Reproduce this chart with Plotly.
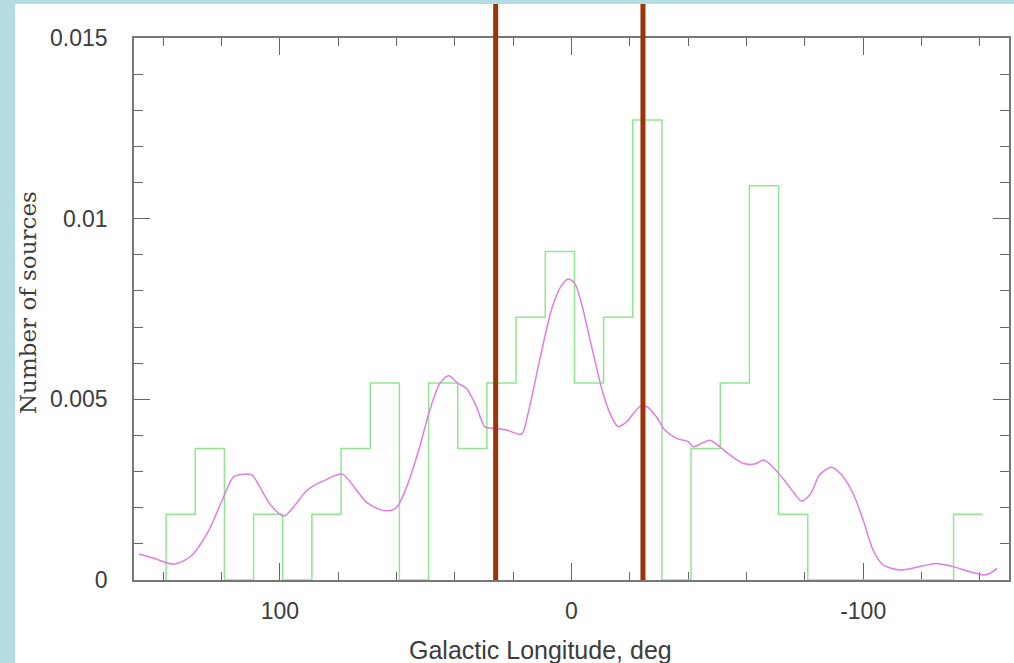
import plotly.graph_objects as go

# ---- data ----
bin_edges = [139, 129, 119, 109, 99, 89, 79, 69, 59, 49, 39, 29, 19, 9, -1,
             -11, -21, -31, -41, -51, -61, -71, -81, -91, -101, -111, -121, -131, -141]
bin_counts = [1, 2, 0, 1, 0, 1, 2, 3, 0, 3, 2, 3, 4, 5, 3,
              4, 7, 0, 2, 3, 6, 1, 0, 0, 0, 0, 0, 1]
n_sources = 55
bin_width = 10

curve_x = [148.3, 143.2, 136.3, 130.6, 124.9, 119.8, 115.8, 112.3, 109.5, 106.6, 103.2,
           98.6, 95.2, 90.6, 84.9, 78.6, 74.6, 70.1, 64.3, 60.3, 56.5, 52.0, 48.6, 45.1,
           42.1, 38.9, 36.0, 32.6, 29.7, 26.9, 22.3, 17.1, 14.9, 10.9, 6.9, 4.0, 1.2,
           -1.1, -3.4, -6.9, -10.8, -13.7, -16.0, -18.9, -23.4, -25.7, -29.1, -32.0,
           -36.0, -40.0, -41.7, -47.4, -50.8, -54.3, -58.8, -62.8, -65.9, -69.1, -72.5,
           -76.0, -78.8, -81.7, -85.1, -89.1, -92.6, -96.5, -100.0, -103.4, -106.8,
           -112.6, -118.3, -125.1, -130.8, -136.5, -141.1, -143.4, -145.9]
curve_y = [0.00072, 0.00060, 0.00044, 0.00065, 0.00129, 0.00220, 0.00286, 0.00293, 0.00290,
           0.00254, 0.00208, 0.00177, 0.00203, 0.00249, 0.00275, 0.00293, 0.00258, 0.00214,
           0.00192, 0.00198, 0.00258, 0.00370, 0.00470, 0.00544, 0.00565, 0.00544, 0.00530,
           0.00480, 0.00424, 0.00420, 0.00415, 0.00404, 0.00461, 0.00609, 0.00747, 0.00807,
           0.00833, 0.00821, 0.00766, 0.00646, 0.00517, 0.00452, 0.00424, 0.00438, 0.00480,
           0.00480, 0.00452, 0.00415, 0.00392, 0.00383, 0.00369, 0.00387, 0.00369, 0.00346,
           0.00323, 0.00321, 0.00332, 0.00312, 0.00281, 0.00244, 0.00219, 0.00235, 0.00291,
           0.00312, 0.00291, 0.00240, 0.00166, 0.00083, 0.00042, 0.00028, 0.00035, 0.00046,
           0.00037, 0.00023, 0.00014, 0.00018, 0.00032]

marker_lines = [26.0, -24.5]

x_tickvals = [100, 0, -100]
x_ticktext = ["100", "0", "-100"]
y_tickvals = [0, 0.005, 0.01, 0.015]
y_ticktext = ["0", "0.005", "0.01", "0.015"]

# ---- build ----
norm = [c / (n_sources * bin_width) for c in bin_counts]
hx = [bin_edges[0]] + bin_edges[:-1] + [bin_edges[-1]]
hy = [0] + norm + [norm[-1]]

fig = go.Figure()
fig.add_trace(go.Scatter(x=hx, y=hy, mode="lines", line=dict(color="#8fe88f", width=1.5, shape="hv"),
                         showlegend=False, xaxis="x", yaxis="y"))
fig.add_trace(go.Scatter(x=curve_x, y=curve_y, mode="lines",
                         line=dict(color="#e07de0", width=1.5, shape="spline", smoothing=0.8),
                         showlegend=False, xaxis="x", yaxis="y"))
for v in marker_lines:
    fig.add_trace(go.Scatter(x=[v, v], y=[0, 0.015], mode="lines",
                             line=dict(color="#9c3407", width=5), showlegend=False,
                             xaxis="x", yaxis="y"))
    fig.add_trace(go.Scatter(x=[v, v], y=[0, 1], mode="lines",
                             line=dict(color="#9c3407", width=5), showlegend=False,
                             xaxis="x2", yaxis="y2"))

W, H = 1014, 663
ml, mr, mt, mb = 134, 5, 4, 83
plot_h = H - mt - mb
plot_w = W - ml - mr
main_top = 542 / plot_h

axis_common = dict(showline=True, linecolor="#777777", linewidth=1.5, mirror="ticks",
                   ticks="inside", tickcolor="#666666", tickwidth=1.3, showgrid=False,
                   zeroline=False, layer="below traces", automargin=False,
                   tickfont=dict(family="Liberation Sans, Arial, sans-serif", size=23, color="#3c3c3c"))

fig.update_layout(
    width=W, height=H,
    margin=dict(l=ml, r=mr, t=mt, b=mb, autoexpand=False),
    paper_bgcolor="white", plot_bgcolor="white",
    xaxis=dict(range=[150, -150], tickmode="array", tickvals=x_tickvals, ticktext=x_ticktext,
               ticklen=17, ticklabelstandoff=10, anchor="y", domain=[0, 1],
               minor=dict(dtick=20, tick0=0, ticks="inside", ticklen=8, tickcolor="#666666", tickwidth=1.3),
               **axis_common),
    yaxis=dict(range=[0, 0.015], tickmode="array", tickvals=y_tickvals, ticktext=y_ticktext,
               ticklen=16, ticklabelstandoff=20, anchor="x", domain=[0, main_top],
               minor=dict(dtick=0.001, tick0=0, ticks="inside", ticklen=9, tickcolor="#666666", tickwidth=1.3),
               **axis_common),
    xaxis2=dict(matches="x", anchor="y2", visible=False, range=[150, -150], automargin=False),
    yaxis2=dict(range=[0, 1], domain=[main_top, 1], anchor="x2", visible=False, automargin=False),
    shapes=[
        dict(type="rect", xref="paper", yref="paper", x0=-0.3, x1=(15 - ml) / plot_w,
             y0=-0.3, y1=1.1, fillcolor="#b3dde1", line=dict(width=0), layer="below"),
        dict(type="rect", xref="paper", yref="paper", x0=-0.3, x1=1.1,
             y0=1, y1=1.1, fillcolor="#b3dde1", line=dict(width=0), layer="below"),
    ],
    annotations=[
        dict(text="Galactic Longitude, deg", xref="paper", yref="paper",
             x=(540 - ml) / plot_w, y=(580 - 650) / plot_h, showarrow=False,
             xanchor="center", yanchor="middle",
             font=dict(family="Liberation Sans, Arial, sans-serif", size=25, color="#3c3c3c")),
        dict(text="Number of sources", xref="paper", yref="paper",
             x=(28 - ml) / plot_w, y=(580 - 303) / plot_h, showarrow=False, textangle=-90,
             xanchor="center", yanchor="middle",
             font=dict(family="DejaVu Serif, serif", size=23, color="#3c3c3c")),
    ],
)

fig.write_html("out.html")
